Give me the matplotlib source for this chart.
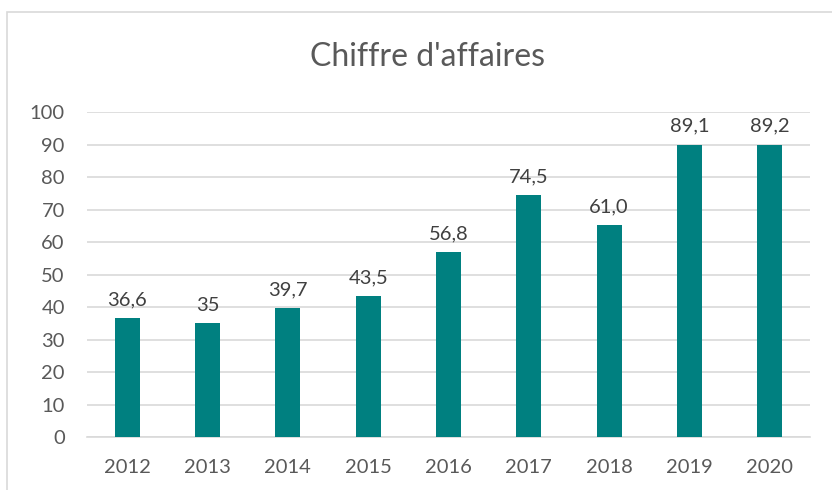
import matplotlib
matplotlib.use("Agg")
import matplotlib.pyplot as plt
from matplotlib.patches import Rectangle

years = ["2012", "2013", "2014", "2015", "2016", "2017", "2018", "2019", "2020"]
bar_values = [36.6, 35.0, 39.7, 43.5, 56.8, 74.5, 65.2, 90.0, 90.0]
label_texts = ["36,6", "35", "39,7", "43,5", "56,8", "74,5", "61,0", "89,1", "89,2"]
y_ticks = [0, 10, 20, 30, 40, 50, 60, 70, 80, 90, 100]

plt.rcParams['font.family'] = ['Lato', 'DejaVu Sans']
txt = "#595959"
teal = "#008080"

fig = plt.figure(figsize=(8.32, 4.9), dpi=100)
fig.patch.set_facecolor("white")
# chart border (partial, as in the screenshot)
fig.add_artist(Rectangle((7/832, -0.1), 1.2, 1 - 12/490 + 0.1, transform=fig.transFigure,
                         fill=False, edgecolor="#d9d9d9", linewidth=1.2))

ax = fig.add_axes([87/832, 1 - 437/490, (810 - 87)/832, (437 - 112)/490])
x = list(range(len(years)))
ax.bar(x, bar_values, width=0.31, color=teal, zorder=3)
for xi, v, t in zip(x, bar_values, label_texts):
    ax.annotate(t, (xi, v), xytext=(0, 7), textcoords="offset points",
                ha="center", va="bottom", fontsize=14.5, color="#404040")

ax.set_xlim(-0.5, len(years) - 0.5)
ax.set_ylim(0, 100)
ax.set_yticks(y_ticks)
ax.set_xticks(x)
ax.set_xticklabels(years)
ax.tick_params(axis="both", length=0, labelsize=14.5, labelcolor=txt)
ax.tick_params(axis="x", pad=16)
ax.tick_params(axis="y", pad=16)
for lab in ax.get_yticklabels():
    lab.set_horizontalalignment("right")
ax.grid(axis="y", color="#d9d9d9", linewidth=1.2, zorder=0)
for s in ["top", "right", "left"]:
    ax.spines[s].set_visible(False)
ax.spines["bottom"].set_color("#d9d9d9")
ax.spines["bottom"].set_linewidth(1.2)

fig.text(428/832, 1 - 57/490, "Chiffre d'affaires", ha="center", va="center",
         fontsize=23, color=txt)

fig.savefig("out.png", dpi=100)
